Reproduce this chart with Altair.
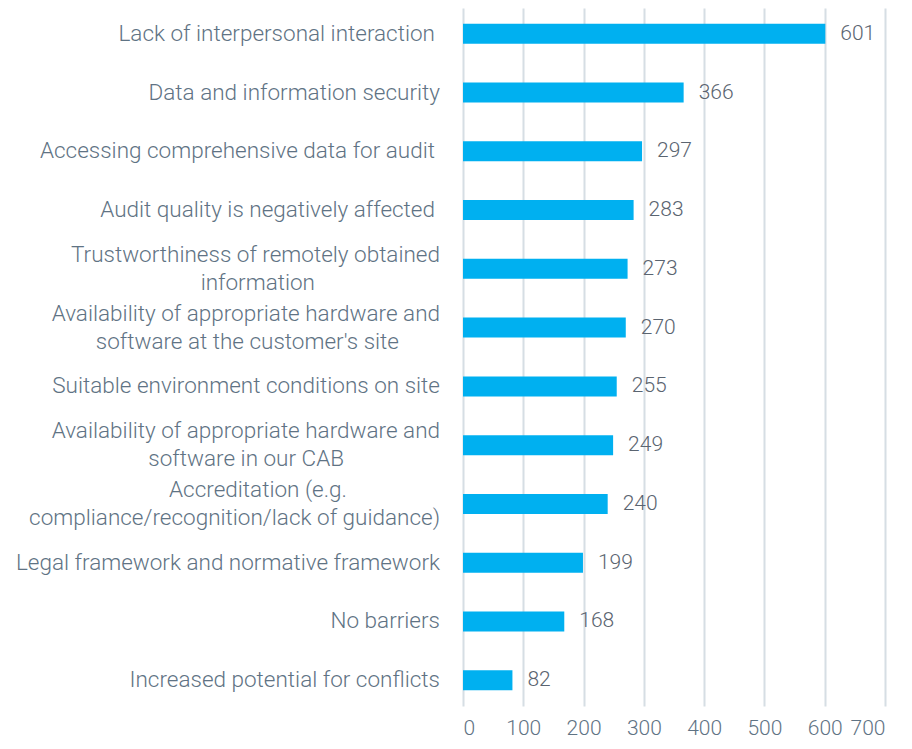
import altair as alt
import pandas as pd

label_line1 = [
    "Lack of interpersonal interaction",
    "Data and information security",
    "Accessing comprehensive data for audit",
    "Audit quality is negatively affected",
    "Trustworthiness of remotely obtained",
    "Availability of appropriate hardware and",
    "Suitable environment conditions on site",
    "Availability of appropriate hardware and",
    "Accreditation (e.g.",
    "Legal framework and normative framework",
    "No barriers",
    "Increased potential for conflicts",
]
label_line2 = [
    "",
    "",
    "",
    "",
    "information",
    "software at the customer's site",
    "",
    "software in our CAB",
    "compliance/recognition/lack of guidance)",
    "",
    "",
    "",
]
values = [601, 366, 297, 283, 273, 270, 255, 249, 240, 199, 168, 82]
x_ticks = [0, 100, 200, 300, 400, 500, 600, 700]

keys = [f"c{i:02d}" for i in range(len(values))]
df = pd.DataFrame({"key": keys, "line1": label_line1, "line2": label_line2, "value": values})

FONT = "Roboto"
AXIS_COLOR = "#5f7384"
VAL_COLOR = "#5a6470"
GRID = "#d6dee4"

# extra leftward shift (px) of each label line, to mimic centred wrapped labels
shift1 = {0: 5, 2: 5, 3: 5, 8: 93}
shift2 = {4: 125, 5: 41, 7: 96}

y_scale = alt.Scale(paddingInner=0.12, paddingOuter=0)
y_enc = alt.Y("key:N", sort=keys, title=None, scale=y_scale, axis=None)

x_enc = alt.X(
    "value:Q",
    scale=alt.Scale(domain=[0, 700], nice=False),
    title=None,
    axis=alt.Axis(
        values=x_ticks,
        labelFont=FONT,
        labelFontWeight=300,
        labelFontSize=21,
        labelColor=AXIS_COLOR,
        labelPadding=11,
        domain=False,
        ticks=False,
        grid=True,
        gridColor=GRID,
        gridWidth=2,
    ),
)

base = alt.Chart(df)

bars = base.mark_bar(color="#00b0f0", size=20).encode(x=x_enc, y=y_enc)

values_txt = base.mark_text(
    align="left", baseline="middle", dx=15, font=FONT, fontWeight=300,
    fontSize=21, color=VAL_COLOR
).encode(x=alt.X("value:Q"), y=alt.Y("key:N", sort=keys), text="value:Q")

lab_style = dict(align="right", baseline="middle", font=FONT, fontWeight=300,
                 fontSize=22.5, color=AXIS_COLOR)

layers = [bars, values_txt]
for i, k in enumerate(keys):
    two = label_line2[i] != ""
    sub = base.transform_filter(alt.datum.key == k)
    layers.append(
        sub.mark_text(dx=-23 - shift1.get(i, 0), dy=-14 if two else 0, **lab_style).encode(
            x=alt.datum(0), y=alt.Y("key:N", sort=keys), text="line1:N")
    )
    if two:
        layers.append(
            sub.mark_text(dx=-23 - shift2.get(i, 0), dy=14, **lab_style).encode(
                x=alt.datum(0), y=alt.Y("key:N", sort=keys), text="line2:N")
        )

chart = (
    alt.layer(*layers)
    .properties(
        width=422,
        height=698,
        autosize=alt.AutoSizeParams(type="none"),
        padding={"left": 455, "top": 0, "right": 18, "bottom": 34},
    )
    .configure_view(stroke=None)
)

chart.save("out.html", embed_options={"renderer": "svg", "actions": False})
